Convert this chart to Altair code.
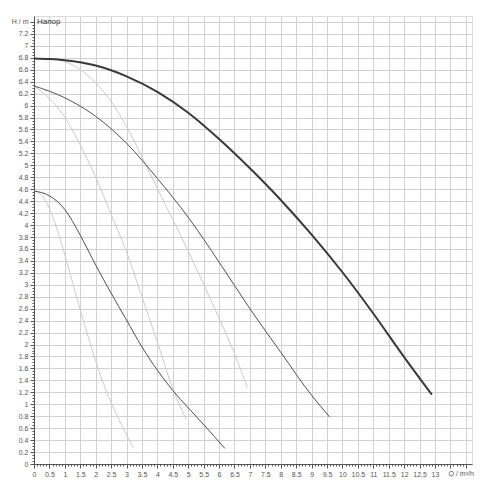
import altair as alt
import pandas as pd

# ---- data ----
a_q = [0, 0.5, 1.0, 2.0, 3.0, 4.0, 5.0, 6.0, 7.0, 8.0, 9.0, 10.0, 11.0, 12.0, 12.9]
a_h = [6.79, 6.78, 6.76, 6.67, 6.49, 6.23, 5.88, 5.44, 4.95, 4.42, 3.84, 3.21, 2.52, 1.79, 1.16]

b_q = [0, 0.5, 1.0, 1.5, 2.0, 2.5, 3.0, 3.5, 4.0, 4.5, 5.0, 5.5, 6.0, 6.5, 6.92]
b_h = [6.79, 6.785, 6.74, 6.6, 6.38, 6.07, 5.65, 5.14, 4.61, 4.09, 3.56, 3.01, 2.44, 1.85, 1.28]

c_q = [0, 1.0, 2.0, 3.0, 4.0, 5.0, 6.0, 7.0, 8.0, 9.0, 9.58]
c_h = [6.33, 6.13, 5.82, 5.37, 4.78, 4.13, 3.38, 2.60, 1.87, 1.15, 0.79]

d_q = [0, 0.5, 1.0, 1.5, 2.0, 2.5, 3.0, 3.5, 4.0, 4.5, 4.94]
d_h = [6.32, 6.12, 5.80, 5.34, 4.80, 4.18, 3.55, 2.80, 2.04, 1.26, 0.74]

e_q = [0, 0.5, 1.0, 1.5, 2.0, 2.5, 3.0, 3.5, 4.0, 4.5, 5.0, 5.5, 6.19]
e_h = [4.57, 4.49, 4.26, 3.83, 3.33, 2.86, 2.41, 1.96, 1.57, 1.23, 0.94, 0.66, 0.26]

f_q = [0, 0.25, 0.5, 0.75, 1.0, 1.25, 1.5, 1.75, 2.0, 2.25, 2.5, 2.75, 3.0, 3.22]
f_h = [4.57, 4.50, 4.28, 3.93, 3.50, 3.04, 2.58, 2.14, 1.72, 1.35, 1.03, 0.75, 0.49, 0.27]

x_major = [i * 0.5 for i in range(29)]          # 0 .. 14
x_minor = [round(i * 0.1, 2) for i in range(141)]
y_major = [round(i * 0.2, 2) for i in range(38)]  # 0 .. 7.4
y_minor = [round(i * 0.05, 2) for i in range(149)]

x_unit = "Q / m³/h"
x_unit_pos = [13.85]
y_unit = "H / m"
title_text = "Напор"

# ---- chart ----
xs = alt.Scale(domain=[0, 14.2], nice=False, zero=False)
ys = alt.Scale(domain=[0, 7.5], nice=False, zero=False)
H = 448


def curve(q, h, color, width):
    df = pd.DataFrame({"Q": q, "H": h})
    return alt.Chart(df).mark_line(
        color=color, strokeWidth=width, interpolate="monotone"
    ).encode(
        x=alt.X("Q:Q", scale=xs, axis=None),
        y=alt.Y("H:Q", scale=ys, axis=None),
    )


lab = "#555555"
major_axes = alt.Chart(pd.DataFrame({"Q": a_q, "H": a_h})).mark_line(opacity=0).encode(
    x=alt.X("Q:Q", scale=xs, axis=alt.Axis(
        orient="bottom", values=x_major, grid=True, gridColor="#d0d0d0", gridWidth=1,
        title=None, tickSize=4, tickColor="#555555", domainColor="#555555",
        labelFontSize=7, labelColor=lab, labelFont="Liberation Sans", labelPadding=2,
        labelFlush=False, labelOverlap=False,
        labelExpr="datum.value >= 13.5 ? '' : format(datum.value, '~g')",
    )),
    y=alt.Y("H:Q", scale=ys, axis=alt.Axis(
        orient="left", values=y_major, grid=True, gridColor="#d0d0d0", gridWidth=1,
        title=None, tickSize=4, tickColor="#555555", domainColor="#555555",
        labelFontSize=7, labelColor=lab, labelFont="Liberation Sans", labelPadding=2,
        labelFlush=False, labelOverlap=False,
        labelExpr=f"abs(datum.value - 7.4) < 0.001 ? '{y_unit}' : format(datum.value, '.1~f')",
    )),
)

minor_axes = alt.Chart(pd.DataFrame({"Q": a_q, "H": a_h})).mark_line(opacity=0).encode(
    x=alt.X("Q:Q", scale=xs, axis=alt.Axis(
        orient="bottom", values=x_minor, grid=False, labels=False, title=None,
        tickSize=2, tickColor="#555555", domain=False,
    )),
    y=alt.Y("H:Q", scale=ys, axis=alt.Axis(
        orient="left", values=y_minor, grid=False, labels=False, title=None,
        tickSize=2, tickColor="#555555", domain=False,
    )),
)

title_mark = alt.Chart(pd.DataFrame({"t": [title_text]})).mark_text(
    align="left", baseline="middle", fontSize=8, font="Liberation Sans", color="#333333"
).encode(x=alt.value(3), y=alt.value(6), text="t:N")

x_unit_mark = alt.Chart(pd.DataFrame({"t": [x_unit], "Q": x_unit_pos})).mark_text(
    align="center", baseline="middle", fontSize=7, font="Liberation Sans", color=lab
).encode(x=alt.X("Q:Q", scale=xs, axis=None), y=alt.value(H + 10), text="t:N")

chart = alt.layer(
    major_axes,
    minor_axes,
    curve(f_q, f_h, "#d3c9cd", 1),
    curve(d_q, d_h, "#cbcbcb", 1),
    curve(b_q, b_h, "#cbcbcb", 1),
    curve(e_q, e_h, "#5e4757", 1),
    curve(c_q, c_h, "#505050", 1),
    curve(a_q, a_h, "#3a3a3a", 2),
    title_mark,
    x_unit_mark,
).resolve_axis(x="independent", y="independent").properties(
    width=438, height=H,
    padding={"left": 3, "top": 8, "right": 0, "bottom": 0},
).configure_view(stroke="#555555", strokeWidth=1).configure(background="white")

chart.save("out.html", embed_options={"renderer": "svg", "actions": False})
